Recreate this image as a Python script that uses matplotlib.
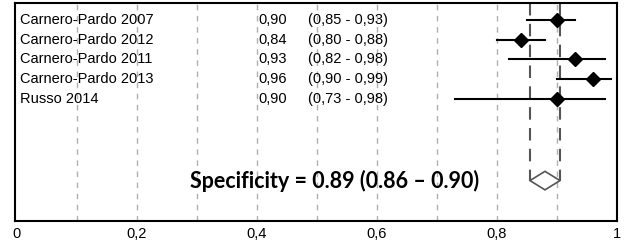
import matplotlib
matplotlib.use("Agg")
import matplotlib.pyplot as plt
from matplotlib.patches import Polygon

studies = ["Carnero-Pardo 2007", "Carnero-Pardo 2012", "Carnero-Pardo 2011",
           "Carnero-Pardo 2013", "Russo 2014"]
spec = [0.90, 0.84, 0.93, 0.96, 0.90]
ci_low = [0.85, 0.80, 0.82, 0.90, 0.73]
ci_high = [0.93, 0.88, 0.98, 0.99, 0.98]

# pooled values as written in the label
pooled = 0.89
pooled_low = 0.86
pooled_high = 0.90
# pooled diamond as drawn in the plot
dia_est = 0.88
dia_low = 0.855
dia_high = 0.905

xticks = [0, 0.2, 0.4, 0.6, 0.8, 1]
xtick_labels = ["0", "0,2", "0,4", "0,6", "0,8", "1"]


def fmt(v):
    return f"{v:.2f}".replace(".", ",")


fig = plt.figure(figsize=(6.38, 2.46), dpi=100)
ax = fig.add_axes([0.0235, 0.1016, 0.9436, 0.8864])
ax.set_xlim(-0.003, 1.0)
ax.set_ylim(11.2, 0.14)

# light grid every 0.1
for g in [0.1, 0.2, 0.3, 0.4, 0.5, 0.6, 0.7, 0.8, 0.9]:
    ax.axvline(g, color="#b0b0b0", lw=1, ls=(0, (4, 4)), zorder=0)

diamond_y = 9.15
# pooled CI guide lines
for v in [dia_low, dia_high]:
    ax.plot([v, v], [0.14, diamond_y], color="#555555", lw=1.5,
            ls=(0, (6, 4)), zorder=1)

for i, name in enumerate(studies):
    y = i + 1
    ax.plot([ci_low[i], ci_high[i]], [y, y], color="black", lw=1.5, zorder=2)
    ax.plot(spec[i], y, marker="D", color="black", ms=7, zorder=3)
    ax.text(0.005, y, name, ha="left", va="center", fontsize=10.5,
            family="Liberation Sans")
    ax.text(0.402, y, fmt(spec[i]), ha="left", va="center", fontsize=10.5,
            family="Liberation Sans")
    ax.text(0.485, y, f"({fmt(ci_low[i])} - {fmt(ci_high[i])})", ha="left",
            va="center", fontsize=10.5, family="Liberation Sans")

dia = Polygon([[dia_low, diamond_y], [dia_est, diamond_y - 0.47],
               [dia_high, diamond_y], [dia_est, diamond_y + 0.47]],
              closed=True, facecolor="white", edgecolor="#555555", lw=1.2,
              zorder=3)
ax.add_patch(dia)

ax.text(0.53, diamond_y, f"Specificity = {pooled:.2f} ({pooled_low:.2f} \u2013 {pooled_high:.2f})",
        ha="center", va="center", fontsize=15.5, fontweight="bold",
        family="Lato")

ax.set_xticks(xticks)
ax.set_xticklabels(xtick_labels, fontsize=10.5, family="Liberation Sans")
ax.tick_params(axis="x", length=0, pad=4)
ax.set_yticks([])
for s in ax.spines.values():
    s.set_linewidth(1.5)
    s.set_color("black")

fig.savefig("out.png", dpi=100, facecolor="white")
